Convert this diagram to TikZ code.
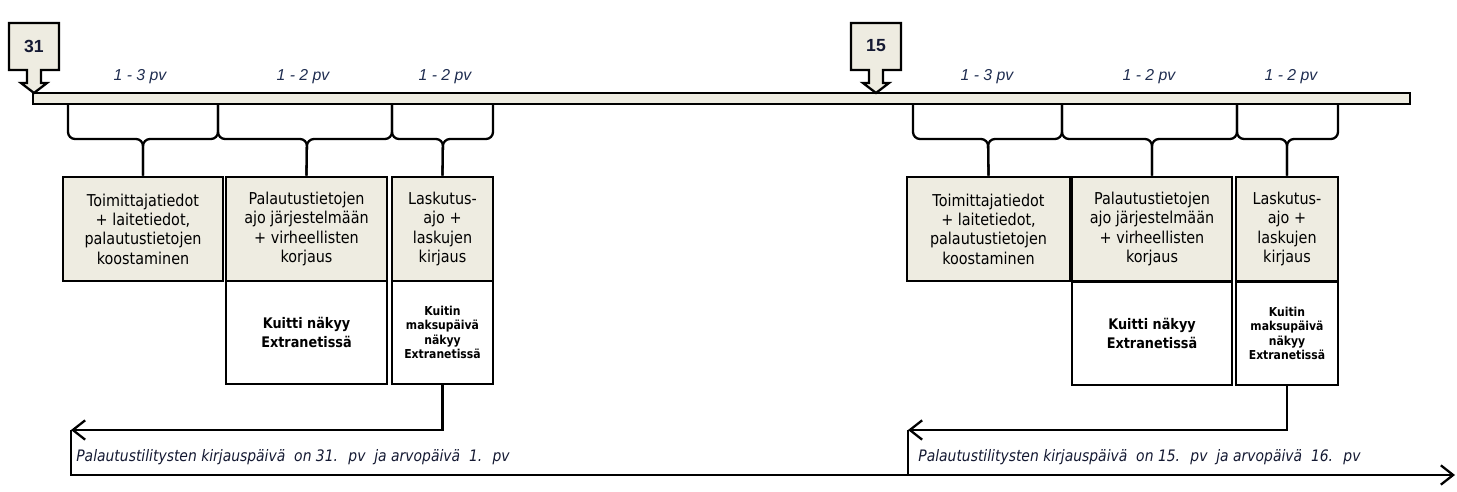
\documentclass[tikz,border=0pt]{standalone}
\usepackage{fontspec}
\setmainfont{DejaVu Sans}[FakeStretch=0.88]
\newfontfamily\spanfont{Liberation Sans}
\usepackage{tikz}
\usepackage{xcolor}
\usetikzlibrary{arrows.meta, positioning}
\definecolor{paper}{HTML}{EEECE1}
\definecolor{spanblue}{RGB}{31,45,80}
\definecolor{notetext}{RGB}{20,25,50}

\begin{document}
\begin{tikzpicture}[x=0.02cm, y=-0.02cm,
    task/.style={rectangle, draw=black, line width=1.6pt, fill=paper, align=center, minimum height=2.08cm, inner sep=0pt, font=\fontsize{9.3}{11}\selectfont},
    note/.style={rectangle, draw=black, line width=1.6pt, fill=white, align=center, minimum height=2.06cm, inner sep=0pt},
    bar/.style={rectangle, draw=black, line width=1.3pt, fill=paper, minimum width=27.54cm, minimum height=0.22cm, inner sep=0pt},
    callout/.style={draw=black, line width=1.3pt, fill=paper, line join=miter},
    daytag/.style={font=\spanfont\bfseries\fontsize{10}{12}\selectfont, text=notetext},
    span/.style={font=\spanfont\itshape\fontsize{9}{10}\selectfont, text=spanblue},
    brace/.style={draw=black, line width=1.3pt, rounded corners=0.14cm},
    arrow/.style={-{Straight Barb[length=7pt, width=11pt]}, line width=1.3pt},
    line/.style={line width=1.3pt},
    period/.style={anchor=west, inner sep=0pt, text=notetext, font=\itshape\fontsize{9}{10}\selectfont}
]
    \useasboundingbox (0,0) rectangle (1457,492);

    % Timeline bar and day markers
    \node[bar] (bar) at (721.5,98.5) {};
    \draw[callout] (9,23) -- (59,23) -- (59,70) -- (41,70) -- (41,83) -- (47,83) -- (34,93) -- (21,83) -- (27,83) -- (27,70) -- (9,70) -- cycle;
    \node[daytag] (d31) at (34,46) {31};
    \draw[callout] (851,23) -- (901,23) -- (901,70) -- (883,70) -- (883,83) -- (889,83) -- (876,93) -- (863,83) -- (869,83) -- (869,70) -- (851,70) -- cycle;
    \node[daytag] (d15) at (876,46) {15};

    % Durations
    \node[span] (s1) at (140,77) {1 - 3 pv};
    \node[span] (s2) at (303,77) {1 - 2 pv};
    \node[span] (s3) at (445,77) {1 - 2 pv};
    \node[span] (s4) at (987,77) {1 - 3 pv};
    \node[span] (s5) at (1149,77) {1 - 2 pv};
    \node[span] (s6) at (1291,77) {1 - 2 pv};

    % Work phases, day 31
    \node[task, minimum width=3.2cm] (b1) at (143,229) {Toimittajatiedot\\ + laitetiedot,\\ palautustietojen\\ koostaminen};
    \node[task, minimum width=3.22cm] (b2) at (306.5,229) {Palautustietojen\\ ajo järjestelmään\\ + virheellisten\\ korjaus};
    \node[task, minimum width=2.02cm] (b3) at (442.5,229) {Laskutus-\\ ajo +\\ laskujen\\ kirjaus};
    \node[note, minimum width=3.22cm, font=\bfseries\fontsize{8.3}{11}\selectfont] (c2) at (306.5,332.5) {Kuitti näkyy\\ Extranetissä};
    \node[note, minimum width=2.02cm, font=\bfseries\fontsize{7}{8.2}\selectfont] (c3) at (442.5,332.5) {Kuitin\\ maksupäivä\\ näkyy\\ Extranetissä};

    % Work phases, day 15
    \node[task, minimum width=3.26cm] (b4) at (988.5,229) {Toimittajatiedot\\ + laitetiedot,\\ palautustietojen\\ koostaminen};
    \node[task, minimum width=3.2cm] (b5) at (1152,229) {Palautustietojen\\ ajo järjestelmään\\ + virheellisten\\ korjaus};
    \node[task, minimum width=2.04cm] (b6) at (1287,229) {Laskutus-\\ ajo +\\ laskujen\\ kirjaus};
    \node[note, minimum width=3.2cm, font=\bfseries\fontsize{8.3}{11}\selectfont] (c5) at (1152,333.5) {Kuitti näkyy\\ Extranetissä};
    \node[note, minimum width=2.04cm, font=\bfseries\fontsize{7}{8.2}\selectfont] (c6) at (1287,333.5) {Kuitin\\ maksupäivä\\ näkyy\\ Extranetissä};

    % Braces
    \draw[brace] (68,104) |- (143,139) -- (b1.north);
    \draw[brace] (218,104) |- (143,139) -- (b1.north);
    \draw[brace] (218,104) |- (307,139) -- (b2.north);
    \draw[brace] (392,104) |- (307,139) -- (b2.north);
    \draw[brace] (392,104) |- (443,139) -- (b3.north);
    \draw[brace] (493,104) |- (443,139) -- (b3.north);
    \draw[brace] (913,104) |- (988,139) -- (b4.north);
    \draw[brace] (1062,104) |- (988,139) -- (b4.north);
    \draw[brace] (1062,104) |- (1152,139) -- (b5.north);
    \draw[brace] (1237,104) |- (1152,139) -- (b5.north);
    \draw[brace] (1237,104) |- (1287,139) -- (b6.north);
    \draw[brace] (1338,104) |- (1287,139) -- (b6.north);

    % Settlement flows
    \coordinate (ret1) at (71,430);
    \coordinate (ret2) at (908,430);
    \coordinate (tend) at (1455,475);
    \draw[arrow] (c3.south) |- (ret1);
    \draw[arrow] (ret1) |- (tend);
    \draw[arrow] (c6.south) |- (ret2);
    \draw[line] (ret2) -- (ret2 |- tend);

    \node[period] (p1) at (76,457) {Palautustilitysten kirjauspäivä~ on 31.~ pv~ ja arvopäivä~ 1.~ pv};
    \node[period] (p2) at (918,457) {Palautustilitysten kirjauspäivä~ on 15.~ pv~ ja arvopäivä~ 16.~ pv};

\end{tikzpicture}
\end{document}
